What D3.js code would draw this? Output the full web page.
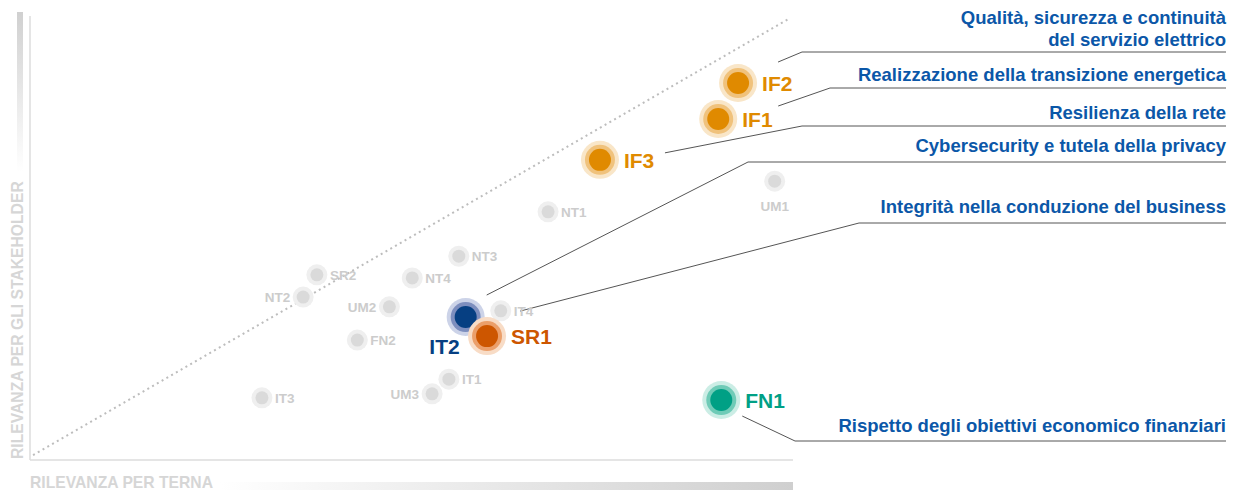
<!DOCTYPE html>
<html>
  <head>
    <meta charset="utf-8">
    <title>Matrice di materialità</title>
    <script src="https://cdn.jsdelivr.net/npm/d3@7"></script>
    <style>
      body { margin: 0; background: #fff; font-family: "Liberation Sans", Arial, sans-serif; }
      #chart { display: block; }
      .minor text { fill: #cccccc; font-size: 13.5px; font-weight: bold; }
      .major text { font-size: 21px; font-weight: bold; }
      .topic { fill: #0b57a8; font-size: 18.5px; font-weight: bold; }
      .axisLabel { fill: #d6d6d6; font-size: 15.7px; font-weight: bold; }
    </style>
  </head>

  <body>
    <svg id="chart" width="1242" height="490"></svg>

    <script>
      // data (relevance for Terna / relevance for stakeholders, 0-100)
      const codes = ["IF2", "IF1", "IF3", "NT1", "UM1", "NT3", "SR2", "NT4", "NT2", "UM2", "IT4", "FN2", "IT1", "UM3", "IT3", "IT2", "SR1", "FN1"];
      const terna = [92.8, 90.2, 74.7, 67.9, 97.6, 56.2, 37.6, 50.1, 35.8, 47.1, 61.7, 42.9, 54.9, 52.7, 30.4, 57.1, 59.9, 90.6];
      const stakeholder = [84.9, 76.8, 67.6, 55.9, 62.8, 45.9, 41.7, 41.0, 36.7, 34.5, 33.6, 27.0, 18.2, 14.9, 14.0, 32.2, 27.9, 13.5];
      const highlighted = ["IF2", "IF1", "IF3", "IT2", "SR1", "FN1"];

      const topics = [
        ["Qualità, sicurezza e continuità", "del servizio elettrico"],
        ["Realizzazione della transizione energetica"],
        ["Resilienza della rete"],
        ["Cybersecurity e tutela della privacy"],
        ["Integrità nella conduzione del business"],
        ["Rispetto degli obiettivi economico finanziari"]
      ];
      const topicCodes = ["IF2", "IF1", "IF3", "IT2", "SR1", "FN1"];

      const xLabel = "RILEVANZA PER TERNA";
      const yLabel = "RILEVANZA PER GLI STAKEHOLDER";

      // styling
      const palette = {
        IF: ["#e08a00", "#f0c27c", "#f9e6c8"],
        IT: ["#063f82", "#7d8ebe", "#ccd3e8"],
        SR: ["#cd5600", "#eb9f6a", "#f8dcc6"],
        FN: ["#00a085", "#6fcbb7", "#cbede5"]
      };
      const labelSide = { NT2: "left", UM2: "left", UM3: "left", UM1: "below", IT2: "belowLeft" };
      // label row y (first baseline), underline y, elbow x, leader end offset from point
      const topicLayout = [
        { y: 24, line: 52, elbow: 802, dx: 40, dy: -21 },
        { y: 81, line: 88, elbow: 830, dx: 60, dy: -13 },
        { y: 119, line: 126, elbow: 802, dx: 65, dy: -7 },
        { y: 152, line: 162, elbow: 748, dx: 21, dy: -22 },
        { y: 213, line: 223, elbow: 859, dx: 33, dy: -25 },
        { y: 432, line: 441, elbow: 795, dx: 21, dy: 16 }
      ];
      const rightEdge = 1226;

      const chart = d3.select("#chart");
      const margin = { top: 16, right: 449, bottom: 30, left: 30 };
      const width = 1242, height = 490;

      const x = d3.scaleLinear().domain([0, 100]).range([margin.left, width - margin.right]);
      const y = d3.scaleLinear().domain([0, 100]).range([height - margin.bottom, margin.top]);

      const points = codes.map((c, i) => ({ code: c, x: terna[i], y: stakeholder[i], major: highlighted.includes(c) }));
      const byCode = Object.fromEntries(points.map(d => [d.code, d]));

      // gradients
      const defs = chart.append("defs");
      const vGrad = defs.append("linearGradient").attr("id", "vGrad")
        .attr("x1", 0).attr("y1", 0).attr("x2", 0).attr("y2", 1);
      vGrad.append("stop").attr("offset", 0).attr("stop-color", "#d0d0d0");
      vGrad.append("stop").attr("offset", 1).attr("stop-color", "#fff");
      const hGrad = defs.append("linearGradient").attr("id", "hGrad");
      hGrad.append("stop").attr("offset", 0).attr("stop-color", "#fff");
      hGrad.append("stop").attr("offset", 1).attr("stop-color", "#cfcfcf");

      chart.append("rect").attr("x", 17).attr("y", 12).attr("width", 6).attr("height", 160).attr("fill", "url(#vGrad)");
      chart.append("rect").attr("x", 220).attr("y", 482).attr("width", x(100) - 220).attr("height", 8).attr("fill", "url(#hGrad)");

      // axes
      const axisGroup = chart.append("g").attr("stroke", "#dcdcdc").attr("stroke-width", 1.5);
      axisGroup.append("line").attr("x1", x(0)).attr("x2", x(0)).attr("y1", y(100)).attr("y2", y(0));
      axisGroup.append("line").attr("x1", x(0)).attr("x2", x(100)).attr("y1", y(0)).attr("y2", y(0));

      chart.append("text").attr("class", "axisLabel")
        .attr("x", x(0)).attr("y", 487.5).text(xLabel);
      chart.append("text").attr("class", "axisLabel")
        .attr("transform", "translate(23," + (y(0) - 1) + ") rotate(-90)").text(yLabel);

      // diagonal
      chart.append("line")
        .attr("x1", x(0.4)).attr("y1", y(1.1)).attr("x2", x(99.6)).attr("y2", y(99.5))
        .attr("stroke", "#bdbdbd").attr("stroke-width", 2).attr("stroke-dasharray", "2,3.5");

      // leader lines and topic labels
      const topicGroup = chart.append("g");
      topics.forEach((lines, i) => {
        const p = byCode[topicCodes[i]];
        const l = topicLayout[i];
        topicGroup.append("polyline")
          .attr("points", [[x(p.x) + l.dx, y(p.y) + l.dy], [l.elbow, l.line], [rightEdge, l.line]].join(" "))
          .attr("fill", "none").attr("stroke", "#555").attr("stroke-width", 1);
        const t = topicGroup.append("text").attr("class", "topic").attr("text-anchor", "end");
        lines.forEach((s, j) => t.append("tspan").attr("x", rightEdge).attr("y", l.y + j * 21.5).text(s));
      });

      // minor points
      const minor = chart.append("g").attr("class", "minor")
        .selectAll("g").data(points.filter(d => !d.major)).join("g")
          .attr("transform", d => "translate(" + x(d.x) + "," + y(d.y) + ")");
      minor.append("circle").attr("r", 10.5).attr("fill", "#efefef");
      minor.append("circle").attr("r", 6.5).attr("fill", "#dadada");
      minor.append("text")
        .attr("x", d => labelSide[d.code] === "left" ? -13 : labelSide[d.code] === "below" ? 0 : 13)
        .attr("y", d => labelSide[d.code] === "below" ? 30 : 5)
        .attr("text-anchor", d => labelSide[d.code] === "left" ? "end" : labelSide[d.code] === "below" ? "middle" : "start")
        .text(d => d.code);

      // highlighted points
      const major = chart.append("g").attr("class", "major")
        .selectAll("g").data(points.filter(d => d.major)).join("g")
          .attr("transform", d => "translate(" + x(d.x) + "," + y(d.y) + ")");
      major.append("circle").attr("r", 19).attr("fill", d => palette[d.code.slice(0, 2)][2]);
      major.append("circle").attr("r", 15).attr("fill", d => palette[d.code.slice(0, 2)][1]);
      major.append("circle").attr("r", 11).attr("fill", d => palette[d.code.slice(0, 2)][0]);
      major.append("text")
        .attr("x", d => labelSide[d.code] === "belowLeft" ? -6 : 24)
        .attr("y", d => labelSide[d.code] === "belowLeft" ? 37 : 8)
        .attr("text-anchor", d => labelSide[d.code] === "belowLeft" ? "end" : "start")
        .attr("fill", d => palette[d.code.slice(0, 2)][0])
        .text(d => d.code);
    </script>
  </body>
</html>
